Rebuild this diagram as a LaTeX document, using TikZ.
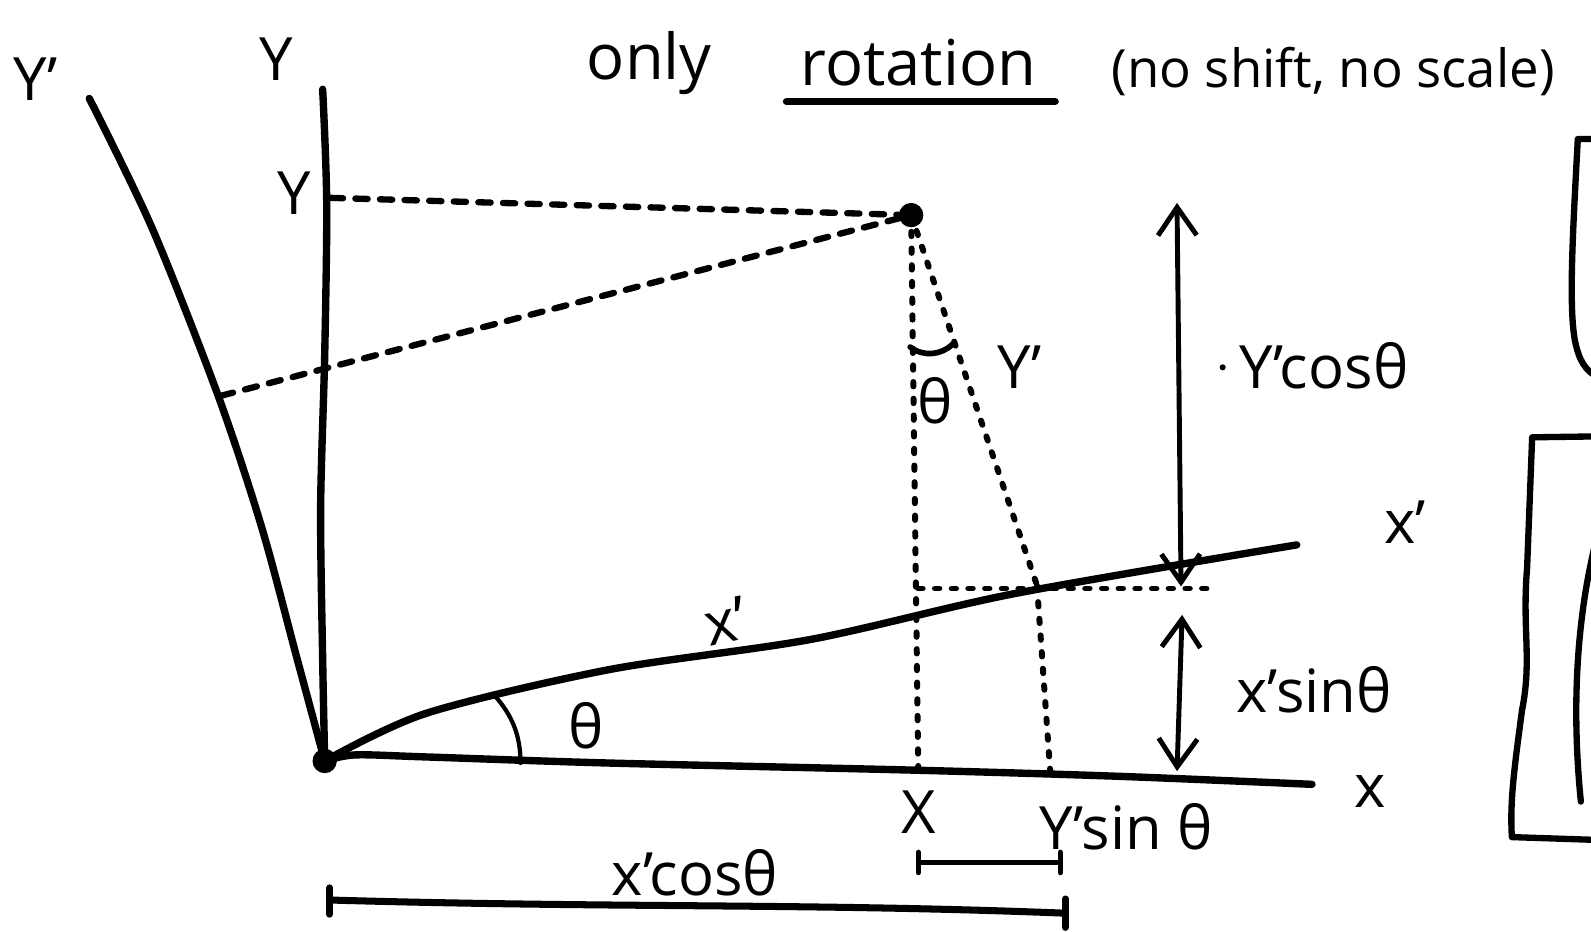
\documentclass[tikz,border=0pt]{standalone}
\usepackage{fontspec}
\setmainfont{Open Sans}
\usetikzlibrary{arrows.meta,calc}
\tikzset{
  axis/.style={line width=4.2pt, line cap=round, line join=round},
  dashln/.style={line width=3.6pt, dash pattern=on 7pt off 7pt, line cap=round},
  dotln/.style={line width=3.4pt, dash pattern=on 2.5pt off 7pt, line cap=round},
  shaft/.style={line width=2.8pt, line cap=round, {Straight Barb[length=16pt,width=22pt,line width=2.8pt]}-{Straight Barb[length=16pt,width=22pt,line width=2.8pt]}},
  thin/.style={line width=2.4pt, line cap=round},
  lab/.style={inner sep=0pt, font=\fontsize{34}{40}\selectfont},
  ttl/.style={inner sep=0pt, font=\fontsize{36}{42}\selectfont},
}
\begin{document}
\begin{tikzpicture}[x=0.020294cm, y=-0.020294cm]
\useasboundingbox (0,0) rectangle (1568,918);
\clip (0,0) rectangle (1568,918);
% key points
\coordinate (O) at (320,750);
\coordinate (ytop) at (318,88);
\coordinate (yptop) at (88,97);
\coordinate (xend) at (1293,773);
\coordinate (xpend) at (1278,537);
\coordinate (P) at (898,212);
\coordinate (Yt) at (326,195);
\coordinate (Ypt) at (218,390);
\coordinate (Xf) at (905,760);
\coordinate (A) at (905,580);
\coordinate (B) at (1022,577);
\coordinate (Bx) at (1035,760);
\coordinate (C) at (1190,580);
\coordinate (U1) at (1160,200);
\coordinate (U2) at (1164,578);
\coordinate (L1) at (1165,606);
\coordinate (L2) at (1160,760);
\coordinate (aa) at (487,685);
\coordinate (ab) at (513,752);
\coordinate (ta) at (897,342);
\coordinate (tb) at (939,339);
% axes
\draw[axis] plot[smooth] coordinates {(ytop) (322,200) (320,350) (316,500) (318,650) (O)};
\draw[axis] plot[smooth] coordinates {(yptop) (150,225) (215,390) (258,520) (293,650) (O)};
\draw[axis] plot[smooth] coordinates {(O) (350,744) (420,746) (600,752) (900,759) (1100,765) (xend)};
\draw[axis] plot[smooth] coordinates {(O) (420,703) (600,660) (800,630) (1000,585) (xpend)};
\fill (O) circle (12);
% point and projections
\fill (P) circle (12);
\draw[dashln] (Yt) -- (P);
\draw[dashln] (Ypt) -- (P);
\draw[dotln] (P) -- (Xf);
\draw[dotln] (P) -- (B);
\draw[dotln] (B) -- (Bx);
\draw[dotln] (A) -- (C);
% angle marks
\draw[thin] (aa) .. controls (505,705) and (513,725) .. (ab);
\draw[line width=3.2pt, line cap=round] (ta) .. controls (910,352) and (928,350) .. (tb);
% double arrows
\draw[shaft] (U2) -- (U1);
\draw[shaft] (L1) -- (L2);
% brackets
\coordinate (b1a) at (905,850);
\coordinate (b1b) at (1045,850);
\draw[line width=3pt] (b1a) -- (b1b);
\draw[line width=3pt, line cap=round] ($(b1a)+(0,-10)$) -- ($(b1a)+(0,10)$);
\draw[line width=3pt, line cap=round] ($(b1b)+(0,-10)$) -- ($(b1b)+(0,10)$);
\coordinate (b2a) at (325,887);
\coordinate (b2b) at (1050,900);
\draw[line width=4pt] (b2a) .. controls (600,895) and (800,890) .. (b2b);
\draw[line width=4pt, line cap=round] ($(b2a)+(0,-12)$) -- ($(b2a)+(0,14)$);
\draw[line width=4pt, line cap=round] ($(b2b)+(0,-14)$) -- ($(b2b)+(0,14)$);
% right edge partial shapes
\draw[line width=3.6pt, line cap=round, line join=round] (1580,137) -- (1555,137) .. controls (1550,230) and (1546,300) .. (1552,335) .. controls (1556,355) and (1562,365) .. (1575,372);
\draw[line width=3.6pt, line cap=round, line join=round] (1580,430) -- (1510,431) -- (1505,560) .. controls (1500,620) and (1510,650) .. (1500,700) .. controls (1492,760) and (1488,790) .. (1490,825) -- (1580,828);
\draw[line width=3.6pt, line cap=round] (1575,525) .. controls (1555,600) and (1548,690) .. (1558,790);
% labels
\node[lab] (lyp) at (35,78) {Y'};
\node[lab] (ly) at (272,58) {Y};
\node[lab] (lyt) at (290,190) {Y};
\node[lab] (lth1) at (922,395) {θ};
\node[lab] (lyp2) at (1005,362) {Y'};
\fill (1205,362) circle (3);
\node[lab] (lycos) at (1305,360) {Y'cosθ};
\node[lab] (lxp2) at (1385,515) {x'};
\node[lab, rotate=12] (lxp1) at (715,612) {x'};
\node[lab] (lxsin) at (1295,680) {x'sinθ};
\node[lab] (lth2) at (578,715) {θ};
\node[lab] (lx) at (1350,780) {x};
\node[lab] (lX) at (905,800) {X};
\node[lab] (lysin) at (1110,815) {Y'sin θ};
\node[lab] (lxcos) at (685,860) {x'cosθ};
% title
\node[ttl] (t1) at (640,62) {only};
\node[ttl] (t2) at (905,62) {rotation};
\draw[line width=4pt, line cap=round] (775,100) -- (1040,100);
\node[ttl, anchor=west, font=\fontsize{30}{36}\selectfont] (t3) at (1095,70) {(no shift, no scale)};
\end{tikzpicture}
\end{document}
